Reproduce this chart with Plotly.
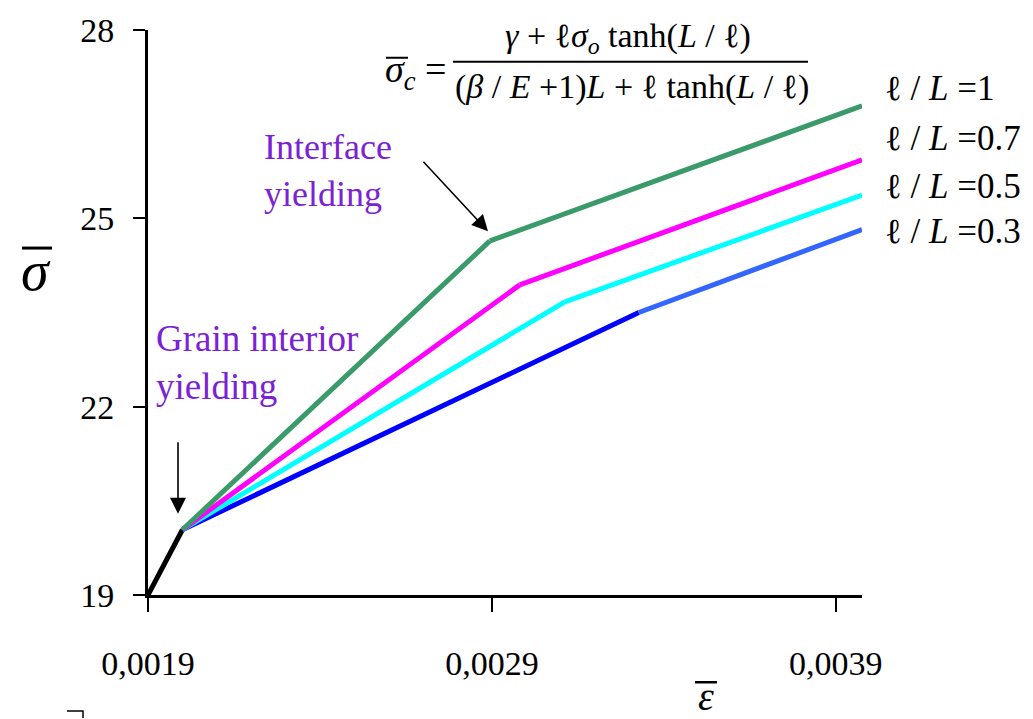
import plotly.graph_objects as go

# ---------------- data ----------------
elastic_x = [0.0019, 0.0020]
elastic_y = [19.0, 20.04]

series_names = ["ℓ/L=1", "ℓ/L=0.7", "ℓ/L=0.5", "ℓ/L=0.3"]
series_x = [
    [0.0020, 0.002894, 0.003976],
    [0.0020, 0.002981, 0.003976],
    [0.0020, 0.003112, 0.003976],
    [0.0020, 0.003327, 0.003976],
]
series_y = [
    [20.04, 24.64, 26.79],
    [20.04, 23.94, 25.93],
    [20.04, 23.67, 25.37],
    [20.04, 23.50, 24.82],
]
series_colors_pre = ["#3A9A6A", "#FF00FF", "#00FFFF", "#0000FF"]
series_colors_post = ["#3A9A6A", "#FF00FF", "#00FFFF", "#3366FF"]

label_texts = [
    "ℓ / <i>L</i> =1",
    "ℓ / <i>L</i> =0.7",
    "ℓ / <i>L</i> =0.5",
    "ℓ / <i>L</i> =0.3",
]

x_tickvals = [0.0019, 0.0029, 0.0039]
x_ticktext = ["0,0019", "0,0029", "0,0039"]
y_tickvals = [19, 22, 25, 28]
y_ticktext = ["19", "22", "25", "28"]

FONT = "Liberation Serif"
PURPLE = "#7B22D4"

# ---------------- geometry helpers (plot area in pixels) ----------------
L, R, T, B = 148, 862, 25, 595
W, H = 1033, 719


def px(xp):
    return (xp - L) / (R - L)


def py(yp):
    return (B - yp) / (B - T)


fig = go.Figure()

# elastic part
fig.add_trace(go.Scatter(x=elastic_x, y=elastic_y, mode="lines",
                         line=dict(color="black", width=5), showlegend=False))

# plastic branches: draw from back to front
for i in reversed(range(len(series_x))):
    xs, ys = series_x[i], series_y[i]
    fig.add_trace(go.Scatter(x=xs[:2], y=ys[:2], mode="lines",
                             line=dict(color=series_colors_pre[i], width=5),
                             showlegend=False, name=series_names[i]))
    fig.add_trace(go.Scatter(x=xs[1:], y=ys[1:], mode="lines",
                             line=dict(color=series_colors_post[i], width=5),
                             showlegend=False, name=series_names[i]))

annotations = []

# series labels on the right
label_y_px = [84, 134, 183, 228]
for t, yp in zip(label_texts, label_y_px):
    annotations.append(dict(xref="paper", yref="paper", x=px(883), y=py(yp),
                            xanchor="left", yanchor="middle", showarrow=False,
                            text=t, font=dict(family=FONT, size=35, color="black")))

# formula
annotations.append(dict(xref="paper", yref="paper", x=px(628), y=py(33),
                        xanchor="center", yanchor="middle", showarrow=False,
                        text="<i>γ</i> + ℓ<i>σ</i><sub><i>o</i></sub> tanh(<i>L</i> / ℓ)",
                        font=dict(family=FONT, size=34, color="black")))
annotations.append(dict(xref="paper", yref="paper", x=px(632), y=py(83),
                        xanchor="center", yanchor="middle", showarrow=False,
                        text="(<i>β</i> / <i>E</i> +1)<i>L</i> + ℓ tanh(<i>L</i> / ℓ)",
                        font=dict(family=FONT, size=34, color="black")))
annotations.append(dict(xref="paper", yref="paper", x=px(383), y=py(67),
                        xanchor="left", yanchor="middle", showarrow=False,
                        text="<i>σ</i><sub><i>c</i></sub> =",
                        font=dict(family=FONT, size=38, color="black")))

# yielding notes
annotations.append(dict(xref="paper", yref="paper", x=px(262), y=py(167),
                        xanchor="left", yanchor="middle", showarrow=False, align="left",
                        text="Interface<br>yielding",
                        font=dict(family=FONT, size=36, color=PURPLE)))
annotations.append(dict(xref="paper", yref="paper", x=px(154), y=py(360),
                        xanchor="left", yanchor="middle", showarrow=False, align="left",
                        text="Grain interior<br>yielding",
                        font=dict(family=FONT, size=37, color=PURPLE)))

# arrows
annotations.append(dict(xref="paper", yref="paper", x=px(488), y=py(228),
                        ax=-66, ay=-71, text="", showarrow=True,
                        arrowhead=2, arrowsize=2, arrowwidth=1.6, arrowcolor="black"))
annotations.append(dict(xref="paper", yref="paper", x=px(178), y=py(513),
                        ax=0, ay=-73, text="", showarrow=True,
                        arrowhead=2, arrowsize=2, arrowwidth=1.6, arrowcolor="black"))

# axis symbols
annotations.append(dict(xref="paper", yref="paper", x=px(36), y=py(268),
                        xanchor="center", yanchor="middle", showarrow=False,
                        text="<i>σ</i>", font=dict(family=FONT, size=56, color="black")))
annotations.append(dict(xref="paper", yref="paper", x=px(706), y=py(697),
                        xanchor="center", yanchor="middle", showarrow=False,
                        text="<i>ε</i>", font=dict(family=FONT, size=40, color="black")))

shapes = [
    # fraction bar
    dict(type="line", xref="paper", yref="paper", x0=px(453), x1=px(808),
         y0=py(57), y1=py(57), line=dict(color="black", width=2)),
    # overbar on sigma_c
    dict(type="line", xref="paper", yref="paper", x0=px(386), x1=px(408),
         y0=py(53), y1=py(53), line=dict(color="black", width=2)),
    # overbar on axis sigma
    dict(type="line", xref="paper", yref="paper", x0=px(22), x1=px(52),
         y0=py(245), y1=py(245), line=dict(color="black", width=3)),
    # overbar on axis epsilon
    dict(type="line", xref="paper", yref="paper", x0=px(695), x1=px(717),
         y0=py(683), y1=py(683), line=dict(color="black", width=2.5)),
    # cut-off fragment at bottom-left
    dict(type="path", xref="paper", yref="paper",
         path=f"M {px(67)},{py(712)} L {px(83)},{py(712)} L {px(83)},{py(719)}",
         line=dict(color="black", width=1.5)),
]

fig.update_layout(
    width=W, height=H,
    margin=dict(l=L, r=W - R, t=T, b=H - B, pad=0),
    plot_bgcolor="white", paper_bgcolor="white",
    showlegend=False,
    annotations=annotations,
    shapes=shapes,
    font=dict(family=FONT, color="black"),
)
fig.update_xaxes(range=[0.0019, 0.003976], tickvals=x_tickvals, ticktext=x_ticktext,
                 showgrid=False, zeroline=False, showline=True, linecolor="black",
                 linewidth=3, ticks="outside", ticklen=14, tickwidth=2, tickcolor="black",
                 tickfont=dict(family=FONT, size=34, color="black"),
                 ticklabelstandoff=22)
fig.update_yaxes(range=[19, 28], tickvals=y_tickvals, ticktext=y_ticktext,
                 showgrid=False, zeroline=False, showline=True, linecolor="black",
                 linewidth=3, ticks="outside", ticklen=12, tickwidth=2, tickcolor="black",
                 tickfont=dict(family=FONT, size=34, color="black"),
                 ticklabelstandoff=12)

fig.write_html("out.html")
